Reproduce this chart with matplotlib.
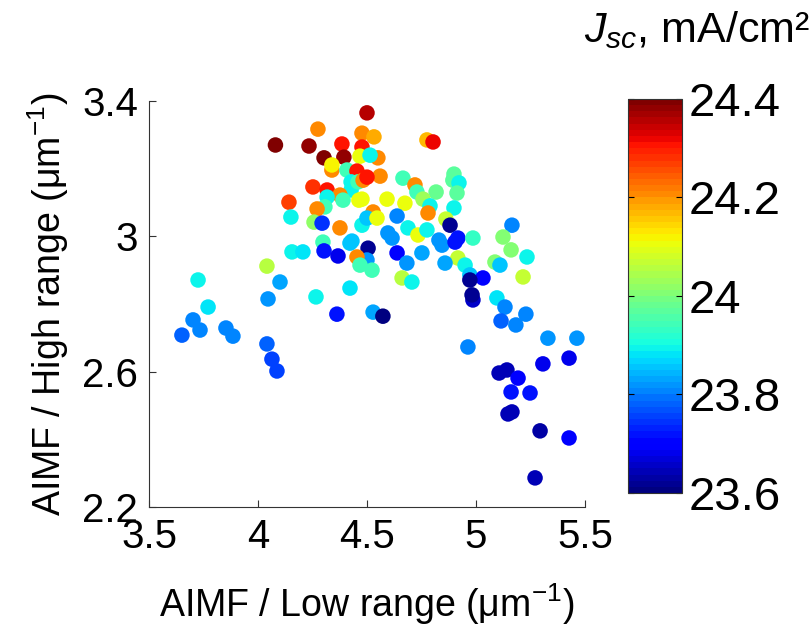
import numpy as np
import matplotlib.pyplot as plt
from matplotlib.colors import ListedColormap

plt.rcParams['font.family'] = ['Liberation Sans', 'DejaVu Sans']
plt.rcParams['mathtext.fontset'] = 'custom'
plt.rcParams['mathtext.rm'] = 'Liberation Sans'
plt.rcParams['mathtext.it'] = 'Liberation Sans:italic'

# AIMF low range (x), high range (y), Jsc (colour)
aimf_low = [4.080, 4.275, 4.234, 4.385, 4.303, 4.394, 4.339, 4.339, 4.500, 4.477,
            4.532, 4.477, 4.468, 4.550, 4.514, 4.408, 4.454, 4.427, 4.427, 4.459,
            4.482, 4.252, 4.317, 4.376, 4.317, 4.307, 4.390, 4.463, 4.142, 4.151,
            4.271, 4.257, 4.294, 4.376, 4.431, 4.477, 4.298, 4.156, 4.206, 4.303,
            4.367, 4.041, 4.101, 4.266, 4.422, 4.046, 4.362, 3.725, 3.771, 3.702,
            3.734, 3.651, 3.853, 3.885, 4.041, 4.064, 4.087, 4.505, 4.638, 4.500,
            4.523, 4.752, 4.683, 4.661, 4.706, 4.917, 4.858, 4.950, 4.972, 5.032,
            4.972, 4.986, 4.982, 5.087, 5.161, 5.234, 5.216, 5.110, 5.096, 5.133,
            5.229, 5.115, 5.183, 4.528, 4.573, 4.963, 5.330, 5.463, 5.307, 5.427,
            5.106, 5.142, 5.193, 5.161, 5.248, 5.147, 5.165, 5.294, 5.427, 5.271,
            5.165, 5.124, 4.775, 4.803, 4.560, 4.500, 4.665, 4.720, 4.729, 4.817,
            4.899, 4.894, 4.922, 4.913, 4.592, 4.477, 4.674, 4.757, 4.789, 4.780,
            4.899, 4.862, 4.881, 4.638, 4.528, 4.500, 4.546, 4.688, 4.596, 4.615,
            4.734, 4.775, 4.830, 4.917, 4.986, 4.454, 4.468, 4.422, 4.844, 4.904]
aimf_high = [3.270, 3.317, 3.267, 3.273, 3.232, 3.234, 3.196, 3.211, 3.365, 3.305,
             3.294, 3.264, 3.237, 3.232, 3.240, 3.196, 3.193, 3.161, 3.137, 3.161,
             3.166, 3.146, 3.137, 3.122, 3.116, 3.087, 3.107, 3.107, 3.101, 3.057,
             3.081, 3.042, 3.039, 3.025, 2.986, 3.033, 2.983, 2.954, 2.954, 2.957,
             2.942, 2.912, 2.865, 2.821, 2.847, 2.815, 2.770, 2.871, 2.791, 2.753,
             2.723, 2.708, 2.729, 2.705, 2.682, 2.637, 2.602, 2.965, 2.951, 2.930,
             2.900, 2.951, 2.921, 2.877, 2.865, 2.936, 2.921, 2.915, 2.886, 2.877,
             2.871, 2.812, 2.827, 2.924, 2.960, 2.939, 2.880, 2.915, 2.818, 2.791,
             2.770, 2.750, 2.738, 2.776, 2.764, 2.673, 2.699, 2.699, 2.623, 2.640,
             2.596, 2.605, 2.581, 2.540, 2.537, 2.475, 2.481, 2.425, 2.404, 2.286,
             3.033, 2.998, 3.285, 3.279, 3.178, 3.175, 3.172, 3.152, 3.131, 3.131,
             3.184, 3.166, 3.158, 3.128, 3.110, 3.110, 3.098, 3.110, 3.090, 3.069,
             3.084, 3.051, 3.033, 3.060, 3.072, 3.054, 3.054, 3.025, 3.010, 2.995,
             3.004, 3.019, 2.989, 2.995, 2.995, 2.939, 2.915, 2.980, 2.974, 2.983]
jsc = [24.40, 24.20, 24.38, 24.30, 24.40, 24.38, 24.20, 24.12, 24.35, 24.20,
       24.18, 24.30, 24.10, 24.20, 23.90, 23.95, 24.30, 23.90, 23.90, 23.95,
       24.20, 24.28, 24.30, 24.20, 23.90, 23.95, 23.95, 24.10, 24.27, 23.90,
       24.20, 24.02, 23.75, 24.20, 23.85, 23.90, 23.95, 23.90, 23.88, 23.72,
       23.68, 24.05, 23.83, 23.90, 23.88, 23.82, 23.72, 23.90, 23.88, 23.80,
       23.80, 23.78, 23.80, 23.80, 23.78, 23.76, 23.76, 23.62, 23.70, 23.82,
       23.95, 23.83, 23.82, 24.05, 23.90, 24.07, 23.83, 23.90, 23.85, 23.70,
       23.62, 23.66, 23.62, 24.00, 24.00, 23.90, 24.07, 23.85, 23.88, 23.80,
       23.80, 23.78, 23.80, 23.83, 23.60, 23.80, 23.82, 23.82, 23.68, 23.68,
       23.64, 23.65, 23.70, 23.72, 23.72, 23.64, 23.64, 23.63, 23.70, 23.64,
       23.80, 24.00, 24.17, 24.32, 24.20, 24.30, 23.95, 24.20, 23.95, 23.98,
       23.97, 23.97, 23.90, 23.97, 24.10, 24.10, 24.10, 24.03, 23.90, 24.20,
       23.90, 24.07, 23.62, 23.80, 24.20, 23.85, 24.10, 23.90, 23.82, 23.82,
       24.10, 23.90, 23.82, 23.72, 23.93, 24.20, 23.95, 23.85, 23.82, 23.72]

x_ticks = [3.5, 4, 4.5, 5, 5.5]
x_labels = ['3.5', '4', '4.5', '5', '5.5']
y_ticks = [2.2, 2.6, 3, 3.4]
y_labels = ['2.2', '2.6', '3', '3.4']
cb_ticks = [23.6, 23.8, 24, 24.2, 24.4]
cb_labels = ['23.6', '23.8', '24', '24.2', '24.4']

# MATLAB-style jet with 64 levels
cmap = ListedColormap(plt.get_cmap('jet')(np.linspace(0, 1, 64)))

fig = plt.figure(figsize=(8.12, 6.37), dpi=100)
ax = fig.add_axes([0.1835, 0.2041, 0.5369, 0.6373])
sc = ax.scatter(aimf_low, aimf_high, c=jsc, cmap=cmap, vmin=23.6, vmax=24.4,
                s=125, edgecolors='none')

ax.set_xlim(3.5, 5.5)
ax.set_ylim(2.2, 3.4)
ax.set_xticks(x_ticks)
ax.set_xticklabels(x_labels)
ax.set_yticks(y_ticks)
ax.set_yticklabels(y_labels)
for side in ['top', 'right']:
    ax.spines[side].set_visible(False)
for side in ['left', 'bottom']:
    ax.spines[side].set_color('#333333')
ax.tick_params(direction='in', length=5, color='#333333', labelsize=29, pad=8)
ax.set_xlabel('AIMF / Low range (μm$^{-1}$)', fontsize=27, labelpad=18)
ax.set_ylabel('AIMF / High range (μm$^{-1}$)', fontsize=27, labelpad=8)

cax = fig.add_axes([0.7734, 0.2261, 0.0665, 0.6185])
cb = fig.colorbar(sc, cax=cax, ticks=cb_ticks)
cb.ax.set_yticklabels(cb_labels)
cb.ax.tick_params(direction='in', length=4, labelsize=34, pad=5, left=True)
cb.outline.set_edgecolor('#333333')

fig.text(0.997, 0.92, '$J_{sc}$, mA/cm²', fontsize=31, ha='right', va='bottom')

fig.savefig('out.png', dpi=100)
